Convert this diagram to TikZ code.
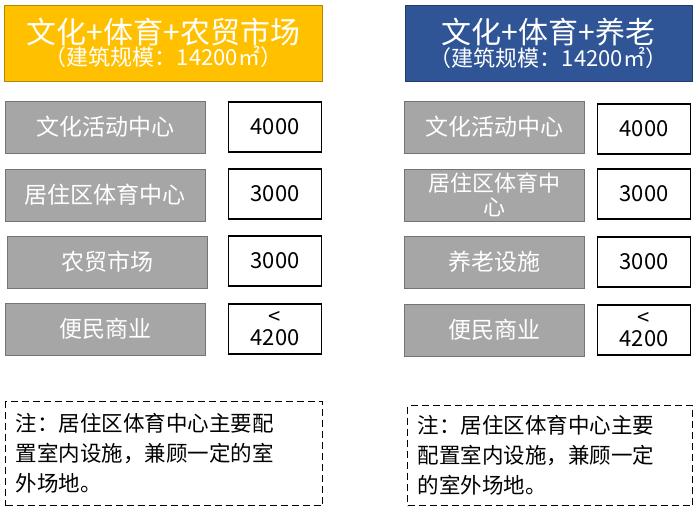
\documentclass[tikz,border=0pt]{standalone}
\usepackage{fontspec}
\setmainfont{Noto Sans CJK SC}
\usetikzlibrary{positioning}
\definecolor{hdyellow}{RGB}{255,192,0}
\definecolor{hdblue}{RGB}{47,85,151}
\definecolor{itemgray}{RGB}{166,166,166}
\tikzset{
  header/.style={draw=#1!70!black,fill=#1,text=white,align=center,minimum height=76pt,inner sep=0pt},
  item/.style={draw=itemgray!70!black,fill=itemgray,text=white,minimum height=52pt,align=center,font=\fontsize{23}{24}\selectfont,inner sep=2pt},
  area/.style={draw=black,line width=1.3pt,fill=white,minimum width=93pt,minimum height=50pt,align=center,font=\fontsize{22}{21}\selectfont,inner sep=1pt},
  note/.style={draw=black,line width=1.3pt,dash pattern=on 7pt off 4pt,align=left,font=\fontsize{21.5}{30}\selectfont,inner xsep=10pt,inner ysep=7pt,anchor=north west}
}
\begin{document}
\begin{tikzpicture}[x=1pt,y=-1pt]
\useasboundingbox (0,0) rectangle (700,511);
% left column
\node[header=hdyellow,minimum width=318pt] (hl) at (163.5,43) {{\fontsize{30}{34}\selectfont 文化+体育+农贸市场}\\[0pt]{\fontsize{22}{24}\selectfont （建筑规模：14200㎡）}};
\node[item,minimum width=200pt] (l1) at (105,127) {文化活动中心};
\node[item,minimum width=200pt] (l2) at (105,195) {居住区体育中心};
\node[item,minimum width=200pt] (l3) at (107,262) {农贸市场};
\node[item,minimum width=200pt] (l4) at (105,329) {便民商业};
\node[area] (n1) at (275,127) {4000};
\node[area] (n2) at (275,194) {3000};
\node[area] (n3) at (275,261) {3000};
\node[area] (n4) at (275,329) {<\\4200};
\node[note,text width=297pt,minimum height=104pt] (nl) at (5,401) {注：居住区体育中心主要配\\置室内设施，兼顾一定的室\\外场地。};
% right column
\node[header=hdblue,minimum width=287pt] (hr) at (548.5,43) {{\fontsize{30}{34}\selectfont 文化+体育+养老}\\[0pt]{\fontsize{22}{24}\selectfont （建筑规模：14200㎡）}};
\node[item,minimum width=180pt] (r1) at (494,127) {文化活动中心};
\node[item,minimum width=180pt,font=\fontsize{22}{24}\selectfont] (r2) at (494,195) {居住区体育中\\心};
\node[item,minimum width=180pt] (r3) at (494,262) {养老设施};
\node[item,minimum width=180pt] (r4) at (494,330) {便民商业};
\node[area] (m1) at (644,129) {4000};
\node[area] (m2) at (644,194) {3000};
\node[area] (m3) at (644,262) {3000};
\node[area] (m4) at (644,330) {<\\4200};
\node[note,text width=265pt,minimum height=100pt] (nr) at (407,405) {注：居住区体育中心主要\\配置室内设施，兼顾一定\\的室外场地。};
\end{tikzpicture}
\end{document}
